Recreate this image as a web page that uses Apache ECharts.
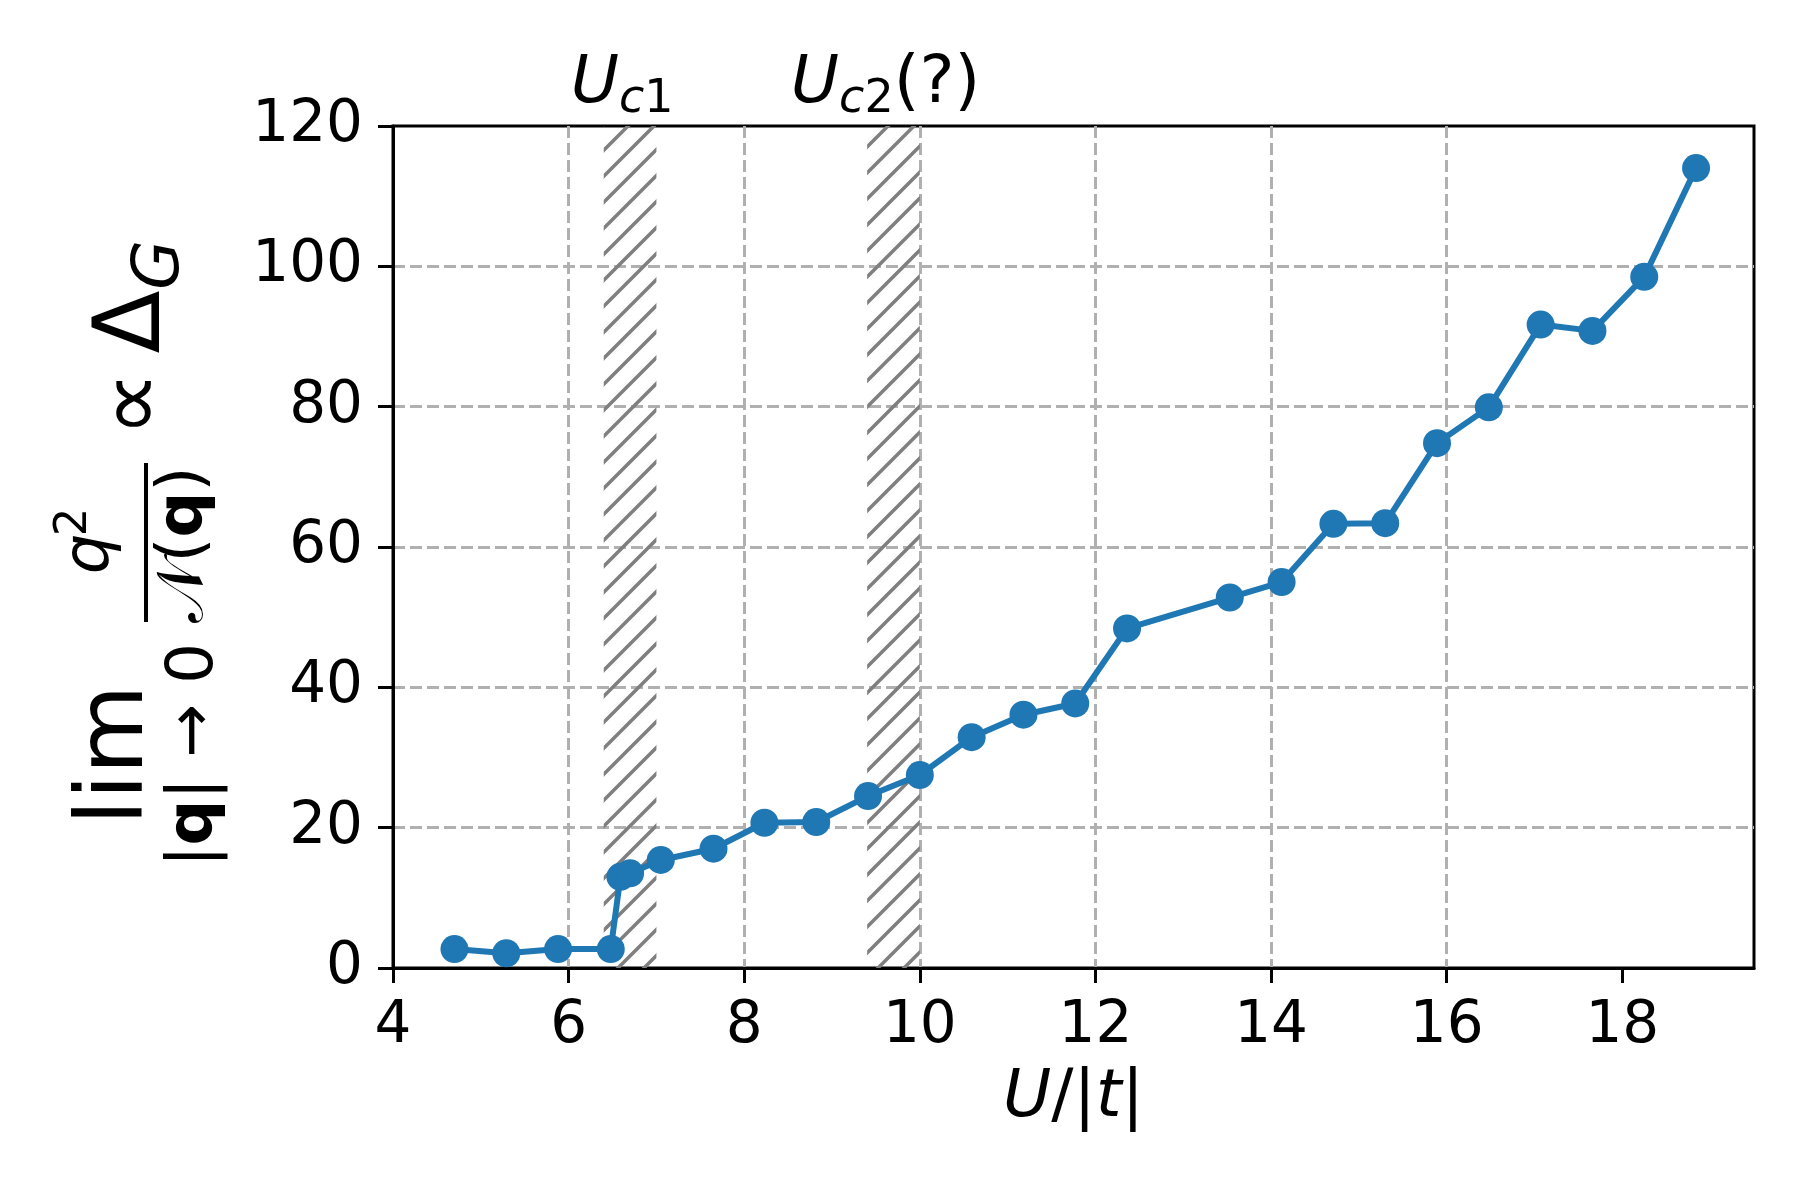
<!DOCTYPE html>
<html>
<head>
<meta charset="utf-8">
<script src="https://cdn.jsdelivr.net/npm/echarts@6/dist/echarts.min.js"></script>
<style>
  html, body { margin: 0; padding: 0; background: #fff; }
  #chart { width: 1800px; height: 1200px; }
</style>
</head>
<body>
<div id="chart"></div>
<script>
// U/|t| values and the measured gap-like quantity
const uValues = [4.70, 5.29, 5.88, 6.48, 6.59, 6.70, 7.05, 7.65, 8.23, 8.82, 9.41, 10.0, 10.59,
  11.18, 11.77, 12.36, 13.53, 14.12, 14.71, 15.30, 15.89, 16.48, 17.07, 17.66, 18.25, 18.84];
const gapValues = [2.7, 2.1, 2.7, 2.7, 13.0, 13.5, 15.4, 17.0, 20.7, 20.8, 24.5, 27.5, 32.9,
  36.1, 37.7, 48.4, 52.8, 55.0, 63.3, 63.4, 74.8, 79.9, 91.7, 90.8, 98.5, 114.0];

// hatched transition windows
const regionNames = ['Uc1', 'Uc2'];
const regionStart = [6.4, 9.4];
const regionEnd = [7.0, 10.0];
const regionLabels = ['{u|U}{s|c}{n|1}', '{u|U}{s|c}{n|2}{p|(?)}'];

const xTicks = [4, 6, 8, 10, 12, 14, 16, 18];

const FONT = 'DejaVu Sans';

function hatchCanvas() {
  const c = document.createElement('canvas');
  c.width = 26;
  c.height = 26;
  const g = c.getContext('2d');
  g.strokeStyle = '#7f7f7f';
  g.lineWidth = 3.5;
  g.beginPath();
  g.moveTo(-3, 29); g.lineTo(29, -3);
  g.moveTo(-3, 3); g.lineTo(3, -3);
  g.moveTo(23, 29); g.lineTo(29, 23);
  g.stroke();
  return c;
}

// text piece for the rotated y label: sy = position along the axis (screen y), sx = screen x of text middle
function piece(text, sy, sx, size, extra) {
  return {
    type: 'text',
    x: -sy,
    y: sx,
    style: Object.assign({
      text: text,
      fontFamily: FONT,
      fontSize: size,
      fill: '#000',
      align: 'center',
      verticalAlign: 'middle',
      textAlign: 'center',
      textVerticalAlign: 'middle'
    }, extra || {})
  };
}

const boldQ = { b: { fontFamily: FONT, fontSize: 64, fontWeight: 'bold' } };

const chart = echarts.init(document.getElementById('chart'), null, { width: 1800, height: 1200 });
chart.setOption({
  animation: false,
  backgroundColor: '#fff',
  textStyle: { fontFamily: FONT },
  grid: {
    left: 393,
    right: 46,
    top: 126,
    bottom: 232,
    show: true,
    borderColor: '#000',
    borderWidth: 3,
    backgroundColor: 'transparent'
  },
  xAxis: {
    type: 'value',
    min: 4,
    max: 19.5,
    interval: 2,
    name: '{i|U}/|{i|t}|',
    nameLocation: 'middle',
    nameGap: 96,
    nameTextStyle: {
      fontFamily: FONT,
      fontSize: 66,
      lineHeight: 70,
      color: '#000',
      rich: { i: { fontFamily: FONT, fontSize: 66, lineHeight: 70, fontStyle: 'italic', color: '#000' } }
    },
    axisLine: { onZero: false, lineStyle: { color: '#000', width: 3 } },
    axisTick: { show: true, length: 15, customValues: xTicks, lineStyle: { color: '#000', width: 3 } },
    axisLabel: { customValues: xTicks, fontFamily: FONT, fontSize: 58, color: '#000', margin: 30 },
    splitLine: { show: true, showMaxLine: false, lineStyle: { color: '#b0b0b0', width: 3, type: [12, 5] } }
  },
  yAxis: {
    type: 'value',
    min: 0,
    max: 120,
    interval: 20,
    axisLine: { show: true, onZero: false, lineStyle: { color: '#000', width: 3 } },
    axisTick: { show: true, length: 15, lineStyle: { color: '#000', width: 3 } },
    axisLabel: { fontFamily: FONT, fontSize: 58, color: '#000', margin: 30 },
    splitLine: { show: true, showMaxLine: false, lineStyle: { color: '#b0b0b0', width: 3, type: [12, 5] } }
  },
  series: [
    {
      type: 'line',
      data: uValues.map((u, i) => [u, gapValues[i]]),
      symbol: 'circle',
      symbolSize: 28,
      showSymbol: true,
      lineStyle: { color: '#1f77b4', width: 6 },
      itemStyle: { color: '#1f77b4' },
      z: 5,
      markArea: {
        silent: true,
        itemStyle: {
          color: { image: hatchCanvas(), repeat: 'repeat' },
          borderWidth: 0
        },
        label: {
          show: true,
          position: 'top',
          distance: 3,
          offset: [-8, 0],
          formatter: (p) => regionLabels[regionNames.indexOf(p.name)],
          rich: {
            u: { fontFamily: FONT, fontSize: 66, lineHeight: 76, fontStyle: 'italic', color: '#000' },
            s: { fontFamily: FONT, fontSize: 46, lineHeight: 46, fontStyle: 'italic', color: '#000', verticalAlign: 'bottom' },
            n: { fontFamily: FONT, fontSize: 46, lineHeight: 46, color: '#000', verticalAlign: 'bottom' },
            p: { fontFamily: FONT, fontSize: 66, lineHeight: 76, color: '#000' }
          }
        },
        data: regionNames.map((n, i) => [{ name: n, xAxis: regionStart[i] }, { xAxis: regionEnd[i] }])
      }
    }
  ],
  graphic: [
    {
      type: 'group',
      x: 0,
      y: 0,
      rotation: Math.PI / 2,
      children: [
        piece('lim', 755, 118, 92),
        piece('|{b|q}| \u2192 0', 755, 195, 64, { rich: boldQ }),
        piece('q', 554, 91, 64, { fontStyle: 'italic' }),
        piece('2', 522, 74, 45),
        {
          type: 'rect',
          shape: { x: -622, y: 144, width: 159, height: 4 },
          style: { fill: '#000' }
        },
        piece('\uD835\uDCA9({b|q})', 545, 185, 64, { rich: boldQ }),
        piece('\u221D', 404, 137, 92),
        piece('\u0394', 322, 135, 92),
        piece('G', 265, 161, 64, { fontStyle: 'italic' })
      ]
    }
  ]
});
</script>
</body>
</html>
